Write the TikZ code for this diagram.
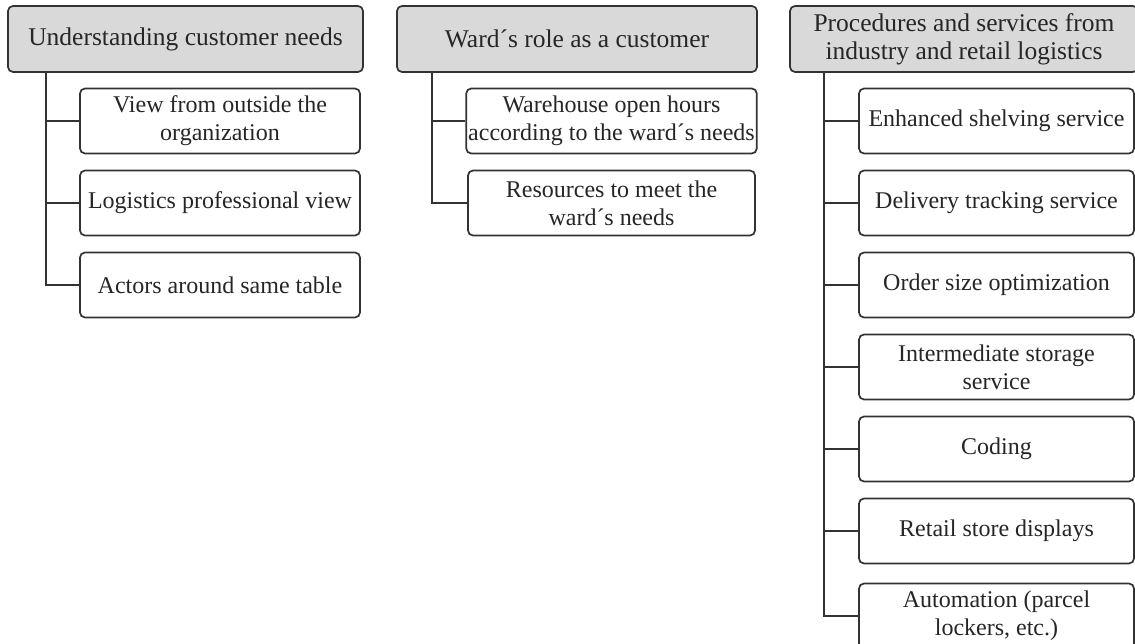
\documentclass[tikz,border=0pt]{standalone}
\usepackage{fontspec}
\setmainfont{Liberation Serif}
\usetikzlibrary{calc}

\tikzset{
  head/.style={draw=black!80, fill=gray!30, rounded corners=5pt, line width=1.7pt,
    minimum height=66pt, align=center, inner sep=2pt, text=black!85,
    font=\fontsize{25.5}{28}\selectfont},
  item/.style={draw=black!80, fill=white, rounded corners=5pt, line width=1.7pt,
    minimum height=65pt, align=center, inner sep=2pt, text=black!85,
    font=\fontsize{24}{28}\selectfont},
  link/.style={draw=black!80, line width=1.7pt}
}

\begin{document}
\begin{tikzpicture}[x=1pt,y=-1pt]
			\useasboundingbox (0,0) rectangle (1135,644);
			%%%%% START %%%%%
			\node[head, minimum width=355pt] (h1) at (185.5,39) {Understanding customer needs};
			\node[head, minimum width=360pt] (h2) at (577,39) {Ward´s role as a customer};
			\node[head, minimum width=348pt] (h3) at (964,39) {Procedures and services from\\industry and retail logistics};
			
			\node[item, minimum width=280pt] (a1) at (220,121) {View from outside the\\organization};
			\node[item, minimum width=280pt] (a2) at (220,203) {Logistics professional view};
			\node[item, minimum width=280pt] (a3) at (220,285) {Actors around same table};
			
			\node[item, minimum width=287pt] (b1) at (611.5,121) {Warehouse open hours\\according to the ward´s needs};
			\node[item, minimum width=287pt] (b2) at (611.5,203) {Resources to meet the\\ward´s needs};
			
			\node[item, minimum width=275pt] (c1) at (996.5,121) {Enhanced shelving service};
			\node[item, minimum width=275pt] (c2) at (996.5,203) {Delivery tracking service};
			\node[item, minimum width=275pt] (c3) at (996.5,285) {Order size optimization};
			\node[item, minimum width=275pt] (c4) at (996.5,367) {Intermediate storage\\service};
			\node[item, minimum width=275pt] (c5) at (996.5,449) {Coding};
			\node[item, minimum width=275pt] (c6) at (996.5,531) {Retail store displays};
			\node[item, minimum width=275pt] (c7) at (996.5,616) {Automation (parcel\\lockers, etc.)};
			
			% trunks
			\coordinate (t1) at (h1.south -| 46,0);
			\coordinate (t2) at (h2.south -| 432,0);
			\coordinate (t3) at (h3.south -| 824,0);
			\draw[link] (t1) |- (a3.west);
			\draw[link] (t2) |- (b2.west);
			\draw[link] (t3) |- (c7.west);
			
			% branches
			\foreach \n in {a1,a2} \draw[link] (t1 |- \n.west) -- (\n.west);
			\draw[link] (t2 |- b1.west) -- (b1.west);
			\foreach \n in {c1,c2,c3,c4,c5,c6} \draw[link] (t3 |- \n.west) -- (\n.west);
			%%%%% END %%%%%
\end{tikzpicture}
\end{document}
